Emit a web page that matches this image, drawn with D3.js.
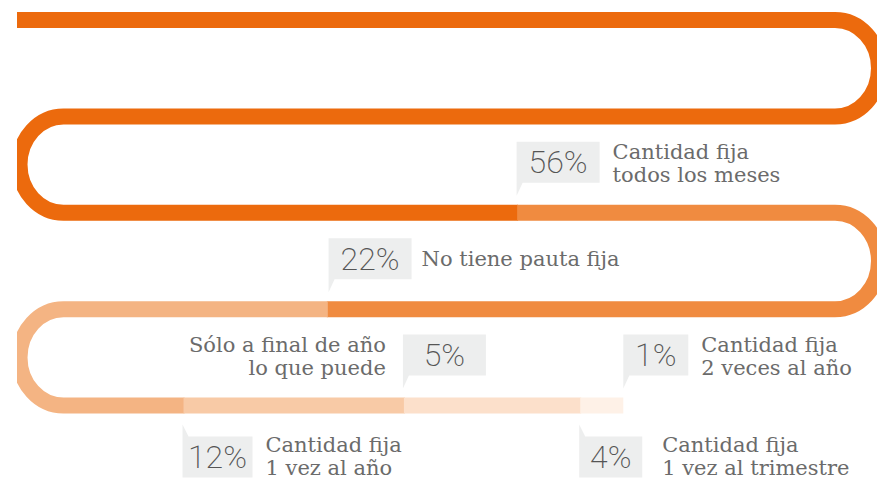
<!DOCTYPE html>
<html>
<head>
<meta charset="utf-8">
<script src="https://cdn.jsdelivr.net/npm/d3@7"></script>
<style>
  html, body { margin: 0; padding: 0; background: #fff; }
  svg { display: block; }
</style>
</head>
<body>
<div id="chart"></div>
<script>
  //=========================================================================
  // Data
  //=========================================================================

  const values = [56, 22, 12, 5, 4, 1];
  const valueLabels = ["56%", "22%", "12%", "5%", "4%", "1%"];
  const categoryLines = [
    ["Cantidad fija", "todos los meses"],
    ["No tiene pauta fija"],
    ["Cantidad fija", "1 vez al año"],
    ["Sólo a final de año", "lo que puede"],
    ["Cantidad fija", "1 vez al trimestre"],
    ["Cantidad fija", "2 veces al año"]
  ];

  //=========================================================================
  // Styles / layout
  //=========================================================================

  const colors = ["#ec6a0d", "#f08b40", "#f4b483", "#f8caa6", "#fce0cb", "#fef1e7"];
  const labelSide = ["above", "above", "below", "above", "below", "above"];
  const textSide = ["right", "right", "right", "left", "right", "right"];
  const boxWidths = [83, 83, 70, 83, 63, 65];
  const textGaps = [13, 10, 13, 17, 20, 13];

  var width = 877,
      height = 479,
      band = 16;

  // serpentine geometry
  var rows = d3.range(5).map(i => 20 + i * 96.4),
      xLeft = 63.5,
      xRight = 835,
      rx = 44,
      ry = 48.2,
      visibleStart = 17,
      hiddenLead = 136,   // the line comes in from outside the crop
      xEnd = 623.3;

  var dStr = `M${visibleStart - hiddenLead},${rows[0]}`;
  rows.forEach((y, i) => {
    const goingRight = i % 2 === 0;
    const xTo = i === rows.length - 1 ? xEnd : (goingRight ? xRight : xLeft);
    dStr += `L${xTo},${y}`;
    if (i < rows.length - 1) {
      dStr += `A${rx},${ry} 0 0 ${goingRight ? 1 : 0} ${xTo},${rows[i + 1]}`;
    }
  });

  var svg = d3.select("#chart")
    .append("svg")
    .attr("width", width)
    .attr("height", height);

  svg.append("defs")
    .append("clipPath")
    .attr("id", "crop")
    .append("rect")
    .attr("x", visibleStart)
    .attr("y", 0)
    .attr("width", width)
    .attr("height", height);

  // measure the path
  var guide = svg.append("path")
    .attr("d", dStr)
    .attr("fill", "none")
    .attr("stroke", "none");
  var total = guide.node().getTotalLength();

  var len = d3.scaleLinear()
    .domain([0, d3.sum(values)])
    .range([0, total]);

  var ends = Array.from(d3.cumsum(values));
  var starts = [0].concat(ends.slice(0, -1));

  //=========================================================================
  // Band segments
  //=========================================================================

  svg.append("g")
    .attr("clip-path", "url(#crop)")
    .selectAll("path.seg")
    .data(values)
    .join("path")
    .attr("class", "seg")
    .attr("d", dStr)
    .attr("fill", "none")
    .attr("stroke", (d, i) => colors[i])
    .attr("stroke-width", band)
    .attr("stroke-dasharray", (d, i) => `${len(d) + (i < values.length - 1 ? 1 : 0)} ${total * 2}`)
    .attr("stroke-dashoffset", (d, i) => -len(starts[i]));

  //=========================================================================
  // Labels
  //=========================================================================

  svg.append("g")
    .selectAll("g.label")
    .data(values)
    .join("g")
    .attr("class", "label")
    .each(function (d, i) {
      const g = d3.select(this);
      const pt = guide.node().getPointAtLength(Math.min(len(ends[i]), total));
      const above = labelSide[i] === "above";
      const x0 = pt.x,
            w = boxWidths[i],
            tipY = pt.y + (above ? -17 : 19),
            top = above ? tipY - 13 - 41 : tipY + 12,
            bottom = top + 41;

      const shape = above
        ? `M${x0},${top}H${x0 + w}V${bottom}H${x0 + 6}L${x0},${tipY}Z`
        : `M${x0},${tipY}L${x0 + 6},${top}H${x0 + w}V${bottom}H${x0}Z`;

      g.append("path")
        .attr("d", shape)
        .attr("fill", "#edeeee");

      g.append("text")
        .attr("x", x0 + w / 2)
        .attr("y", top + 31.5)
        .attr("text-anchor", "middle")
        .style("font-family", "Roboto, 'DejaVu Sans', sans-serif")
        .style("font-weight", 200)
        .style("font-size", "32px")
        .style("fill", "#555")
        .text(valueLabels[i]);

      const right = textSide[i] === "right";
      const lines = categoryLines[i];
      const t = g.append("text")
        .attr("text-anchor", right ? "start" : "end")
        .style("font-family", "'DejaVu Serif', serif")
        .style("font-size", "21px")
        .style("fill", "#6b6b6b");

      const base = above ? 17.5 : 15.5;
      lines.forEach((line, k) => {
        t.append("tspan")
          .attr("x", right ? x0 + w + textGaps[i] : x0 - textGaps[i])
          .attr("y", lines.length === 1 ? top + 28 : top + base + k * 22.5)
          .text(line);
      });
    });
</script>
</body>
</html>
